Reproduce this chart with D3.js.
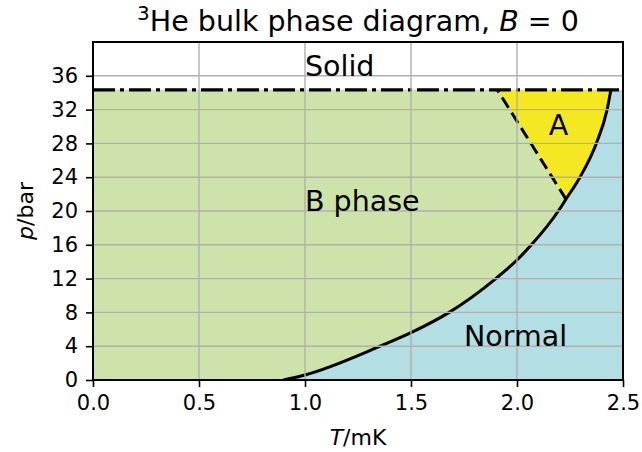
<!DOCTYPE html>
<html><head><meta charset="utf-8">
<script src="https://cdn.jsdelivr.net/npm/d3@7"></script>
<style>body{margin:0;background:#fff}svg text{font-family:"DejaVu Sans",sans-serif}</style>
</head><body>
<svg id="c" width="642" height="452"></svg>
<script>
// Tc(p) superfluid transition curve (T in mK, p in bar)
const tcT = [0.898, 1.0, 1.354, 1.5, 1.68, 1.90, 2.0, 2.068, 2.195, 2.231, 2.297, 2.374, 2.425, 2.443];
const tcP = [0, 0.6, 4, 5.6, 8, 12, 14.2, 16, 20, 21.4, 24, 28, 32, 34.34];
// A-B transition line: polycritical point -> melting line
const abT = [2.231, 1.907];
const abP = [21.4, 34.34];
const meltP = 34.34;
const xTicks = [0.0, 0.5, 1.0, 1.5, 2.0, 2.5];
const yTicks = [0, 4, 8, 12, 16, 20, 24, 28, 32, 36];
const labels = [
  {text: "Solid", T: 1.0, p: 36},
  {text: "B phase", T: 1.0, p: 20},
  {text: "A", T: 2.15, p: 29},
  {text: "Normal", T: 1.75, p: 4}
];

const M = {l: 93, r: 623, t: 42, b: 380};
const x = d3.scaleLinear().domain([0, 2.5]).range([M.l, M.r]);
const y = d3.scaleLinear().domain([0, 40]).range([M.b, M.t]);
const svg = d3.select("#c");

const tc = tcT.map((t, i) => [t, tcP[i]]);
const lineGen = d3.line().x(d => x(d[0])).y(d => y(d[1])).curve(d3.curveMonotoneX);
const tcPath = lineGen(tc);

const defs = svg.append("defs");
defs.append("clipPath").attr("id", "plot").append("rect")
  .attr("x", M.l).attr("y", M.t).attr("width", M.r - M.l).attr("height", M.b - M.t);
const sfPath = tcPath + `L${x(0)},${y(meltP)}L${x(0)},${y(0)}Z`;
defs.append("clipPath").attr("id", "sf").append("path").attr("d", sfPath);

const g = svg.append("g").attr("clip-path", "url(#plot)");
// Normal (blue) below melting line
g.append("rect").attr("x", x(0)).attr("y", y(meltP)).attr("width", x(2.5) - x(0)).attr("height", y(0) - y(meltP))
  .attr("fill", "#b2dee4");
// superfluid (A, yellow)
g.append("path").attr("d", sfPath).attr("fill", "#f4e822");
// B phase: left of AB line (extended downward), clipped to the superfluid region
const slope = (abT[1] - abT[0]) / (abP[1] - abP[0]);
const tAt0 = abT[0] - slope * abP[0];
const bPoly = [[0, 0], [tAt0, 0], [abT[0], abP[0]], [abT[1], abP[1]], [0, abP[1]]];
g.append("g").attr("clip-path", "url(#sf)").append("path")
  .attr("d", "M" + bPoly.map(d => `${x(d[0])},${y(d[1])}`).join("L") + "Z")
  .attr("fill", "#cde3a9");

// grid
svg.append("g").selectAll("line").data(xTicks).join("line")
  .attr("x1", d => x(d)).attr("x2", d => x(d)).attr("y1", M.t).attr("y2", M.b)
  .attr("stroke", "#b0b0b0").attr("stroke-width", 1.4);
svg.append("g").selectAll("line").data(yTicks).join("line")
  .attr("x1", M.l).attr("x2", M.r).attr("y1", d => y(d)).attr("y2", d => y(d))
  .attr("stroke", "#b0b0b0").attr("stroke-width", 1.4);

// curves
g.append("path").attr("d", tcPath).attr("fill", "none").attr("stroke", "#000").attr("stroke-width", 3);
g.append("line").attr("x1", x(abT[0])).attr("y1", y(abP[0])).attr("x2", x(abT[1])).attr("y2", y(abP[1]))
  .attr("stroke", "#000").attr("stroke-width", 3).attr("stroke-dasharray", "12,6");
g.append("line").attr("x1", x(0)).attr("x2", x(2.5)).attr("y1", y(meltP)).attr("y2", y(meltP))
  .attr("stroke", "#000").attr("stroke-width", 3.3).attr("stroke-dasharray", "22,5,4,5");

// labels
svg.append("g").selectAll("text").data(labels).join("text")
  .attr("x", d => x(d.T)).attr("y", d => y(d.p)).attr("font-size", 28.5).attr("fill", "#000")
  .text(d => d.text);

// axes
const xa = svg.append("g").attr("transform", `translate(0,${M.b})`)
  .call(d3.axisBottom(x).tickValues(xTicks).tickFormat(d3.format(".1f")).tickSize(7).tickPadding(8));
const ya = svg.append("g").attr("transform", `translate(${M.l},0)`)
  .call(d3.axisLeft(y).tickValues(yTicks).tickSize(7).tickPadding(8));
[xa, ya].forEach(a => {
  a.select(".domain").remove();
  a.selectAll("line").attr("stroke", "#000").attr("stroke-width", 1.6);
  a.selectAll("text").attr("font-size", 21).attr("fill", "#000").attr("font-family", "DejaVu Sans");
});
svg.append("rect").attr("x", M.l).attr("y", M.t).attr("width", M.r - M.l).attr("height", M.b - M.t)
  .attr("fill", "none").attr("stroke", "#000").attr("stroke-width", 2);

// axis labels
const xl = svg.append("text").attr("x", (M.l + M.r) / 2).attr("y", 445).attr("text-anchor", "middle").attr("font-size", 22);
xl.append("tspan").attr("font-style", "italic").text("T");
xl.append("tspan").text("/mK");
const yl = svg.append("text").attr("transform", `translate(33,${(M.t + M.b) / 2}) rotate(-90)`).attr("text-anchor", "middle").attr("font-size", 22);
yl.append("tspan").attr("font-style", "italic").text("p");
yl.append("tspan").text("/bar");

// title
const tt = svg.append("text").attr("x", (M.l + M.r) / 2).attr("y", 31).attr("text-anchor", "middle").attr("font-size", 28.5);
tt.append("tspan").attr("font-size", 20).attr("dy", -11).text("3");
tt.append("tspan").attr("dy", 11).text("He bulk phase diagram, ");
tt.append("tspan").attr("font-style", "italic").text("B");
tt.append("tspan").text(" = 0");
</script>
</body></html>
